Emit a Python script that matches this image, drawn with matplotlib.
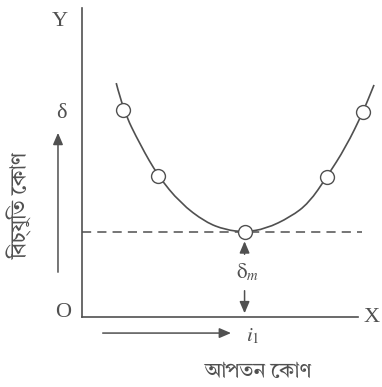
import matplotlib

matplotlib.use("Agg")
import matplotlib.pyplot as plt
from matplotlib.path import Path
from matplotlib.patches import PathPatch

# curve (incidence angle i, deviation delta), arbitrary units
incidence = [12.4, 14.9, 21.1, 27.6, 35.6, 44.7, 52.0, 58.9, 66.5, 75.6, 82.2, 88.7, 95.6, 101.8, 105.8]
deviation = [75.7, 67.0, 55.7, 45.6, 36.9, 30.7, 28.2, 27.5, 28.5, 32.4, 36.9, 45.3, 55.0, 66.3, 75.1]
marked = [1, 3, 7, 11, 13]  # points drawn as open circles
delta_min = 27.5
i_min = 58.9

y_label = "বিচ্যুতি কোণ"
x_label = "আপতন কোণ"

INK = "#505050"
BN_FONT = ["Tiro Bangla", "Noto Serif Bengali", "DejaVu Sans"]


def visual_order(s):
    # matplotlib does no shaping: put pre-base vowel signs in front of their consonant
    pre = {"\u09bf", "\u09c7", "\u09c8"}
    split = {"\u09cb": ("\u09c7", "\u09be"), "\u09cc": ("\u09c7", "\u09d7")}
    out = []
    for ch in s:
        if ch in pre or ch in split:
            # find start of the consonant cluster just written
            j = len(out) - 1
            while j > 0 and out[j - 1] == "\u09cd":
                j -= 2
            if ch in pre:
                out.insert(j, ch)
            else:
                out.insert(j, split[ch][0])
                out.append(split[ch][1])
        else:
            out.append(ch)
    return "".join(out)


plt.rcParams["mathtext.fontset"] = "stix"
fig = plt.figure(figsize=(3.82, 3.87), dpi=100)
ax = fig.add_axes([82 / 382, 70 / 387, 276 / 382, 309 / 387])
ax.set_xlim(0, 100)
ax.set_ylim(0, 100)
for s in ("top", "right"):
    ax.spines[s].set_visible(False)
for s in ("left", "bottom"):
    ax.spines[s].set_color(INK)
    ax.spines[s].set_linewidth(1.2)
ax.set_xticks([])
ax.set_yticks([])

# smooth curve: points used as quadratic bezier controls
pts = list(zip(incidence, deviation))
verts = [pts[0]]
codes = [Path.MOVETO]
for k in range(1, len(pts) - 1):
    mid = ((pts[k][0] + pts[k + 1][0]) / 2, (pts[k][1] + pts[k + 1][1]) / 2)
    verts += [pts[k], mid]
    codes += [Path.CURVE3, Path.CURVE3]
verts.append(pts[-1])
codes.append(Path.LINETO)
ax.add_patch(PathPatch(Path(verts, codes), fill=False, edgecolor=INK, lw=1.2, clip_on=False))

ax.plot([incidence[k] for k in marked], [deviation[k] for k in marked], "o",
        ms=10, mfc="white", mec=INK, mew=1.0, clip_on=False, zorder=5)

ax.hlines(delta_min, 0, 101.5, colors=INK, linestyles=(0, (6, 4)), lw=1.1, clip_on=False)

serif = ["Liberation Serif", "DejaVu Serif"]
ax.text(-8.0, 95.5, "Y", fontsize=16, family=serif, color=INK, ha="center", va="center")
ax.text(-6.9, 1.3, "O", fontsize=16, family=serif, color=INK, ha="center", va="center")
ax.text(104.9, -0.3, "X", fontsize=16, family=serif, color=INK, ha="center", va="center")
ax.text(-7.3, 66.0, "δ", fontsize=16, family=serif, color=INK, ha="center", va="center")
ax.text(i_min + 1.0, 14.5, r"$\mathrm{δ}_m$", fontsize=15, color=INK, ha="center", va="center")
ax.text(59.6, -6.1, r"$i_1$", fontsize=15, color=INK, ha="left", va="center")

arrow = dict(arrowstyle="-|>,head_length=0.7,head_width=0.3", color=INK, lw=1.1)
ax.annotate("", xy=(-8.7, 60.5), xytext=(-8.7, 13.6), arrowprops=arrow, annotation_clip=False)
ax.annotate("", xy=(i_min, 25.4), xytext=(i_min, 19.4), arrowprops=arrow, annotation_clip=False)
ax.annotate("", xy=(i_min, 0.3), xytext=(i_min, 9.4), arrowprops=arrow, annotation_clip=False)
ax.annotate("", xy=(55.0, -5.2), xytext=(6.5, -5.2), arrowprops=arrow, annotation_clip=False)

ax.text(-22.3, 35.6, visual_order(y_label), fontsize=15.5, family=BN_FONT, color=INK,
        rotation=90, ha="center", va="center")
ax.text(63.6, -17.8, visual_order(x_label), fontsize=15, family=BN_FONT, color=INK,
        ha="center", va="center")

fig.savefig("out.png", dpi=100)
